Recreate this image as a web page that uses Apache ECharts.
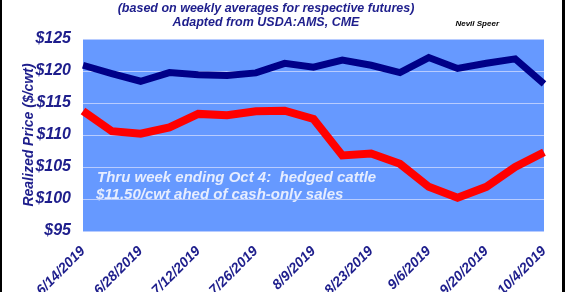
<!DOCTYPE html>
<html><head><meta charset="utf-8">
<script src="https://cdn.jsdelivr.net/npm/echarts@6/dist/echarts.min.js"></script>
<style>html,body{margin:0;padding:0;background:#fff}#c{width:565px;height:292px}</style>
</head><body><div id="c"></div>
<script>
var weeks = ['6/14/2019','6/21/2019','6/28/2019','7/5/2019','7/12/2019','7/19/2019','7/26/2019','8/2/2019','8/9/2019','8/16/2019','8/23/2019','8/30/2019','9/6/2019','9/13/2019','9/20/2019','9/27/2019','10/4/2019'];
var hedged = [120.9,119.6,118.4,119.75,119.4,119.3,119.7,121.2,120.6,121.7,120.9,119.75,122.1,120.4,121.2,121.9,118.0];
var cashOnly = [113.75,110.6,110.2,111.2,113.3,113.1,113.7,113.8,112.5,106.8,107.1,105.5,101.9,100.2,101.9,105.0,107.3];
var titleLines = '(based on weekly averages for respective futures)\nAdapted from USDA:AMS, CME';
var note1 = 'Thru week ending Oct 4:  hedged cattle';
var note2 = '$11.50/cwt ahed of cash-only sales';
var navy = '#1e1e8c';
var chart = echarts.init(document.getElementById('c'));
chart.setOption({
  animation: false,
  backgroundColor: '#fff',
  title: {
    text: titleLines, left: 261, textAlign: 'center', top: -3,
    textStyle: {fontFamily: 'Liberation Sans', fontSize: 12.5, fontWeight: 'bold', fontStyle: 'italic', color: navy, lineHeight: 13.5}
  },
  grid: {left: 83, right: 21, top: 39, bottom: 61, show: true, backgroundColor: '#6699ff', borderWidth: 0, containLabel: false, outerBoundsMode: 'none'},
  xAxis: {
    type: 'category', data: weeks, boundaryGap: false,
    axisLine: {show: false}, axisTick: {show: false}, splitLine: {show: false},
    axisLabel: {interval: 1, rotate: 45, margin: 18, fontFamily: 'Liberation Sans', fontSize: 14, fontWeight: 'bold', fontStyle: 'italic', color: navy}
  },
  yAxis: {
    type: 'value', min: 95, max: 125, interval: 5,
    name: 'Realized Price ($/cwt)', nameLocation: 'middle', nameGap: 47, nameRotate: 90, nameMoveOverlap: false,
    nameTextStyle: {fontFamily: 'Liberation Sans', fontSize: 14, fontWeight: 'bold', fontStyle: 'italic', color: navy},
    axisLine: {show: false}, axisTick: {show: false},
    splitLine: {show: true, lineStyle: {color: '#b8ccff', width: 1}},
    axisLabel: {margin: 12, formatter: '${value}', fontFamily: 'Liberation Sans', fontSize: 16, fontWeight: 'bold', fontStyle: 'italic', color: navy}
  },
  series: [
    {type: 'line', data: hedged, symbol: 'none', lineStyle: {color: '#000088', width: 7, join: 'miter'}},
    {type: 'line', data: cashOnly, symbol: 'none', lineStyle: {color: '#ff0000', width: 8, join: 'miter'}}
  ],
  graphic: [
    {type: 'text', left: 97, top: 170, style: {text: note1, fill: '#e6edff', font: 'italic bold 15px "Liberation Sans"'}},
    {type: 'text', left: 96, top: 187, style: {text: note2, fill: '#e6edff', font: 'italic bold 15px "Liberation Sans"'}},
    {type: 'text', right: 66, top: 20, style: {text: 'Nevil Speer', fill: '#000', font: 'italic bold 8px "Liberation Sans"'}},
    {type: 'rect', left: 0, top: 0, shape: {width: 2, height: 292}, style: {fill: '#000'}},
    {type: 'rect', left: 562, top: 0, shape: {width: 3, height: 292}, style: {fill: '#000'}}
  ]
});
</script></body></html>
